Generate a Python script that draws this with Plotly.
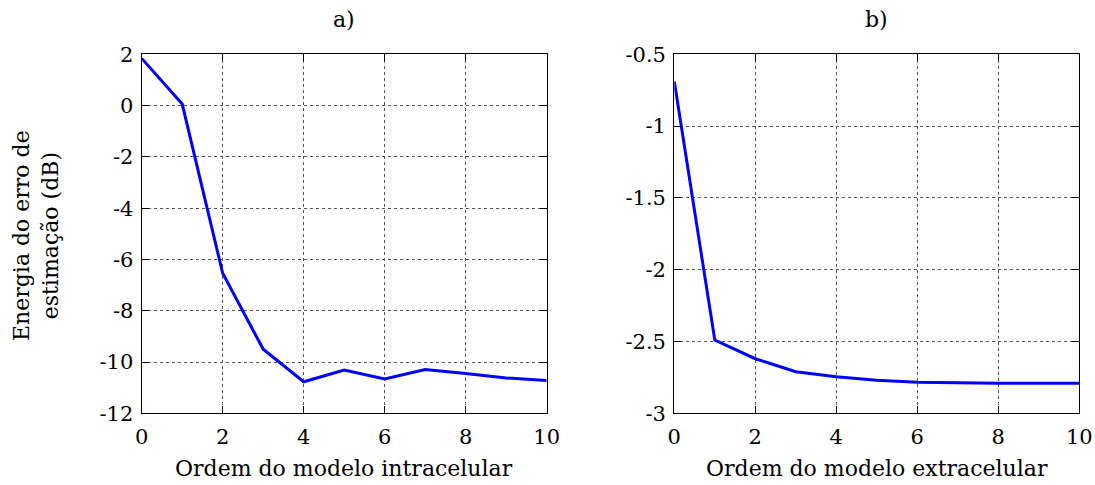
import plotly.graph_objects as go

order = [0, 1, 2, 3, 4, 5, 6, 7, 8, 9, 10]
intra = [1.84, 0.06, -6.54, -9.5, -10.77, -10.31, -10.66, -10.29, -10.45, -10.62, -10.72]
extra = [-0.69, -2.49, -2.62, -2.71, -2.745, -2.77, -2.784, -2.788, -2.79, -2.79, -2.79]

xticks = [0, 2, 4, 6, 8, 10]
yticks1 = [-12, -10, -8, -6, -4, -2, 0, 2]
ylabels1 = ["-12", "-10", "-8", "-6", "-4", "-2", "0", "2"]
yticks2 = [-3, -2.5, -2, -1.5, -1, -0.5]
ylabels2 = ["-3", "-2.5", "-2", "-1.5", "-1", "-0.5"]

titles = ["a)", "b)"]
xtitles = ["Ordem do modelo intracelular", "Ordem do modelo extracelular"]
ytitle = "Energia do erro de<br>estimação (dB)"

W, H = 1095, 485
FONT = "DejaVu Serif"
FS = 22
FT = 21

fig = go.Figure()
fig.add_trace(go.Scatter(x=order, y=intra, mode="lines", line=dict(color="#0000ff", width=3),
                         xaxis="x", yaxis="y", showlegend=False))
fig.add_trace(go.Scatter(x=order, y=extra, mode="lines", line=dict(color="#0000ff", width=3),
                         xaxis="x2", yaxis="y2", showlegend=False))

ydom = [1 - 413.3 / H, 1 - 54.3 / H]
xd1 = [141.7 / W, 546.7 / W]
xd2 = [674.3 / W, 1079.3 / W]


def axis_style():
    return dict(showline=True, linecolor="black", linewidth=1.3, mirror="ticks",
                ticks="inside", ticklen=7, tickcolor="black", showgrid=True,
                gridcolor="#555555", griddash="dot", gridwidth=1, zeroline=False,
                automargin=False, tickfont=dict(family=FONT, size=FT, color="black"))


fig.update_layout(
    width=W, height=H, margin=dict(l=0, r=0, t=0, b=0),
    plot_bgcolor="white", paper_bgcolor="white",
    font=dict(family=FONT, size=FS, color="black"),
    xaxis=dict(domain=xd1, range=[0, 10], tickvals=xticks, ticktext=[str(v) for v in xticks],
               anchor="y", ticklabelstandoff=4, **axis_style()),
    yaxis=dict(domain=ydom, range=[-12, 2], tickvals=yticks1, ticktext=ylabels1, anchor="x",
               ticklabelstandoff=3, **axis_style()),
    xaxis2=dict(domain=xd2, range=[0, 10], tickvals=xticks, ticktext=[str(v) for v in xticks],
                anchor="y2", ticklabelstandoff=4, **axis_style()),
    yaxis2=dict(domain=ydom, range=[-3, -0.5], tickvals=yticks2, ticktext=ylabels2, anchor="x2",
                ticklabelstandoff=3, **axis_style()),
)

ann = []
for xd, t, xt in zip([xd1, xd2], titles, xtitles):
    cx = (xd[0] + xd[1]) / 2
    ann.append(dict(text=t, x=cx, y=1 - 20 / H, xref="paper", yref="paper", showarrow=False,
                    font=dict(family=FONT, size=FS, color="black"), xanchor="center", yanchor="middle"))
    ann.append(dict(text=xt, x=cx, y=1 - 468 / H, xref="paper", yref="paper", showarrow=False,
                    font=dict(family=FONT, size=FS, color="black"), xanchor="center", yanchor="middle"))
ann.append(dict(text=ytitle, x=36 / W, y=1 - 236 / H, xref="paper", yref="paper", showarrow=False,
                textangle=-90, font=dict(family=FONT, size=FS, color="black"),
                xanchor="center", yanchor="middle"))
fig.update_layout(annotations=ann)

fig.write_html("out.html")
